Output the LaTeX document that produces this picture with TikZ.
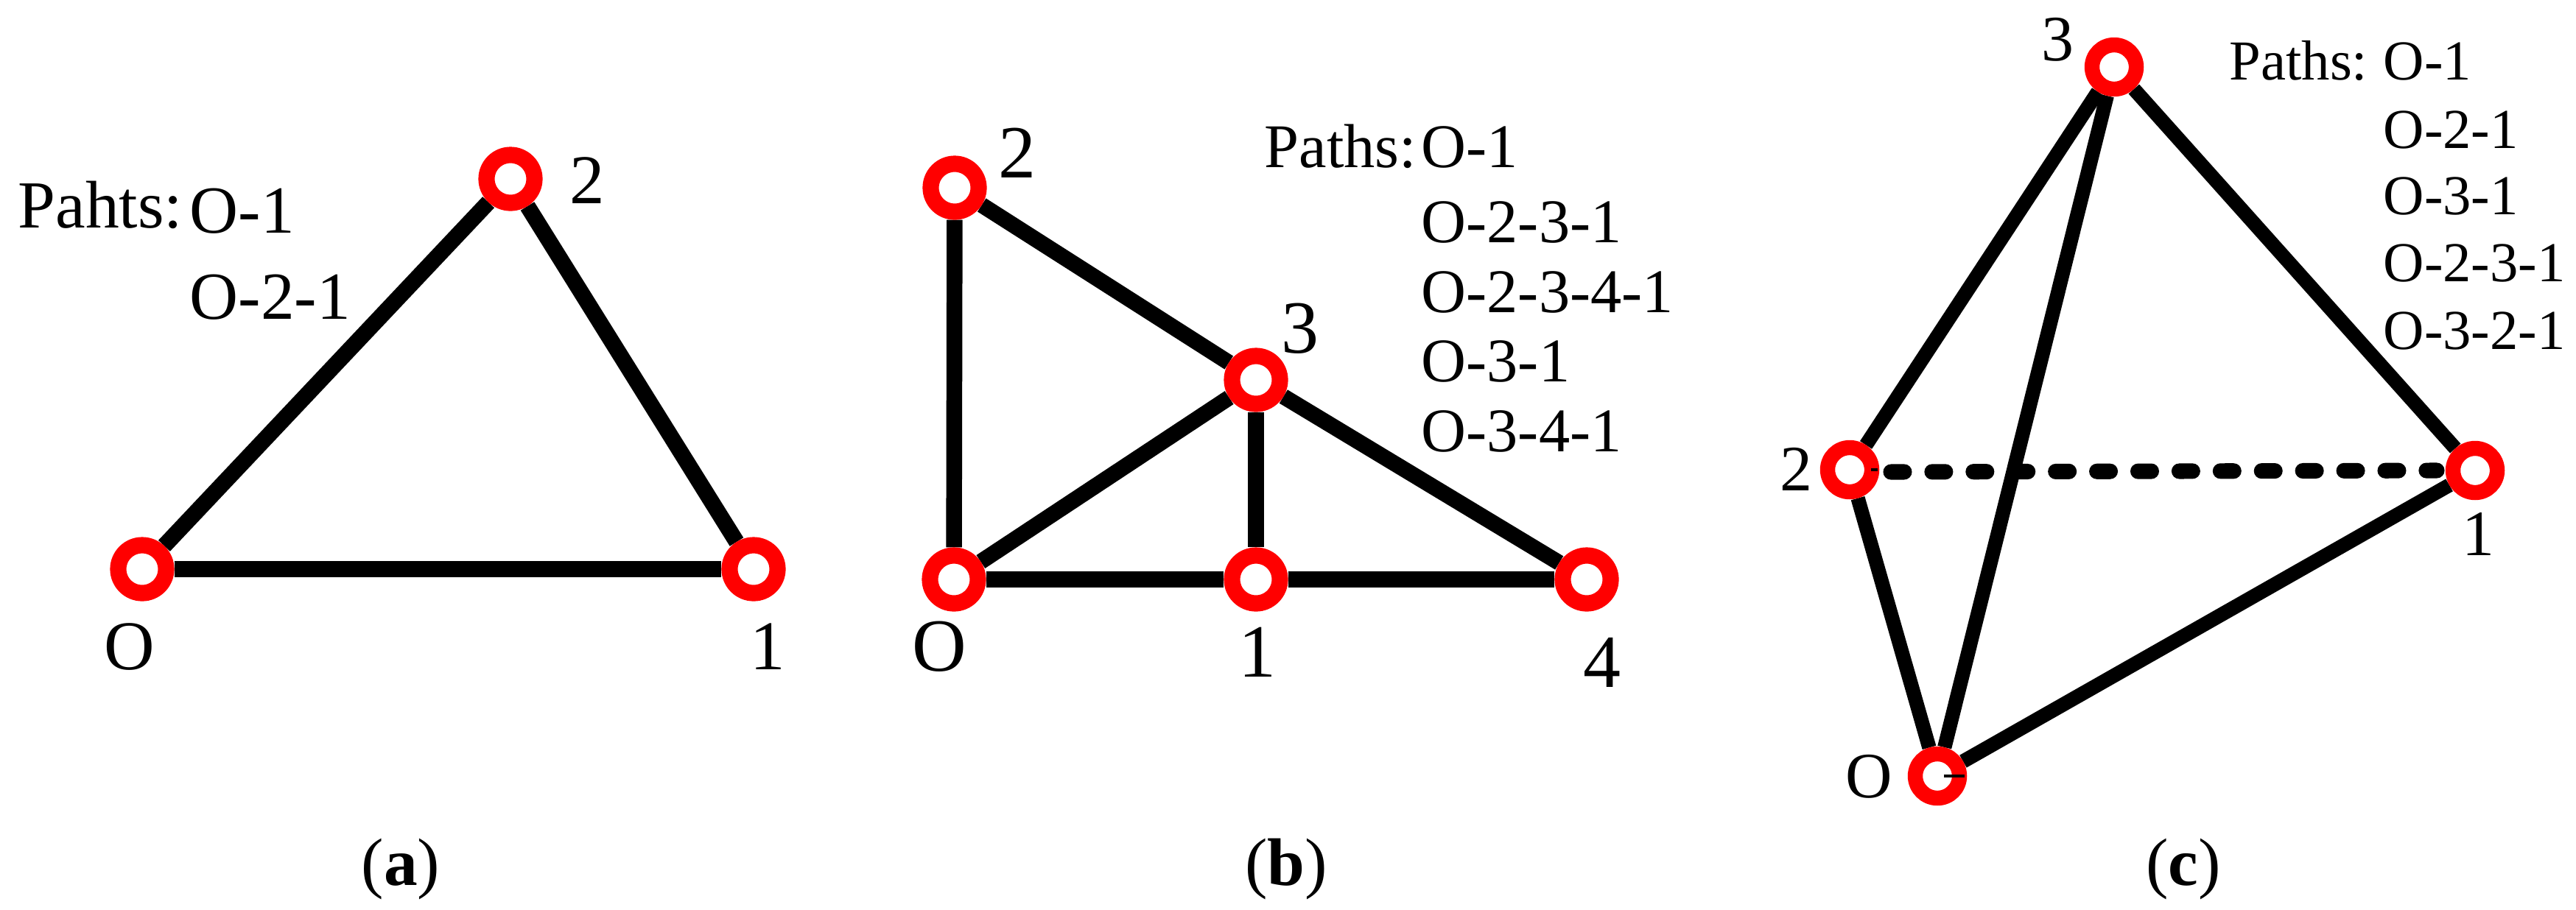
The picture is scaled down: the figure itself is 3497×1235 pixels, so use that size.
\documentclass[tikz,border=0pt]{standalone}
\usepackage{fontspec}
\setmainfont{Liberation Serif}
\usetikzlibrary{calc,backgrounds}
\begin{document}
\begin{tikzpicture}[x=0.01cm,y=-0.01cm,
 vtx/.style={circle,draw=red,fill=white,line width=6.3pt,minimum size=0.65cm,inner sep=0pt},
 vtxc/.style={vtx,line width=5.8pt,minimum size=0.6cm},
 ea/.style={line width=6.2pt},
 eb/.style={line width=6.1pt},
 ec/.style={line width=5.5pt},
 dsh/.style={line width=6pt,line cap=round,dash pattern=on 5.1pt off 10.8pt},
 tick/.style={line width=1pt},
 lbla/.style={inner sep=0pt,font=\fontsize{27}{31}\selectfont},
 lblb/.style={inner sep=0pt,font=\fontsize{29}{33}\selectfont},
 lblc/.style={inner sep=0pt,font=\fontsize{25}{29}\selectfont},
 pa/.style={inner sep=0pt,anchor=base west,font=\fontsize{26}{30}\selectfont},
 pb/.style={inner sep=0pt,anchor=base west,font=\fontsize{24}{28}\selectfont},
 pc/.style={inner sep=0pt,anchor=base west,font=\fontsize{21.8}{25}\selectfont},
 capt/.style={inner sep=0pt,font=\fontsize{26}{30}\selectfont}]

\useasboundingbox (0,0) rectangle (3497,1235);

% ---------- panel (a)
\node[vtx] (aO) at (193,773) {};
\node[vtx] (a1) at (1023,773) {};
\node[vtx] (a2) at (693,243) {};
\begin{pgfonlayer}{background}
\draw[ea] (aO) -- (a1);
\draw[ea] (aO) -- (a2);
\draw[ea] (a2) -- (a1);
\end{pgfonlayer}
\node[lbla] (laO) at (176,879) {O};
\node[lbla] (la1) at (1042,878) {1};
\node[lbla] (la2) at (797,245) {2};
\node[pa] (paH) at (24,309) {Pahts:};
\node[pa] (pa1) at (257,316) {O-1};
\node[pa] (pa2) at (257,433) {O-2-1};
\node[capt] (capa) at (544,1180) {(\textbf{a})};

% ---------- panel (b)
\node[vtx] (bO) at (1295,787) {};
\node[vtx] (b1) at (1705,787) {};
\node[vtx] (b4) at (2154,787) {};
\node[vtx] (b2) at (1296,255) {};
\node[vtx] (b3) at (1705,516) {};
\begin{pgfonlayer}{background}
\draw[eb] (bO) -- (b2);
\draw[eb] (b2) -- (b3);
\draw[eb] (b3) -- (b4);
\draw[eb] (bO) -- (b3);
\draw[eb] (b3) -- (b1);
\draw[eb] (bO) -- (b1);
\draw[eb] (b1) -- (b4);
\end{pgfonlayer}
\node[lblb] (lb2) at (1381,208) {2};
\node[lblb] (lb3) at (1765,446) {3};
\node[lblb] (lbO) at (1275,878) {O};
\node[lblb] (lb1) at (1707,886) {1};
\node[lblb] (lb4) at (2175,900) {4};
\node[pb] (pbH) at (1716,227) {Paths:};
\node[pb] (pb1) at (1929,227) {O-1};
\node[pb] (pb2) at (1929,329) {O-2-3-1};
\node[pb] (pb3) at (1929,424) {O-2-3-4-1};
\node[pb] (pb4) at (1929,518) {O-3-1};
\node[pb] (pb5) at (1929,613) {O-3-4-1};
\node[capt] (capb) at (1746,1180) {(\textbf{b})};

% ---------- panel (c)
\node[vtxc] (c3) at (2870,91) {};
\node[vtxc] (c2) at (2511,638) {};
\node[vtxc] (c1) at (3360,639) {};
\node[vtxc] (cO) at (2630,1054) {};
\begin{pgfonlayer}{background}
\draw[ec] (c2) -- (c3);
\draw[ec] (c3) -- (c1);
\draw[ec] (cO) -- (c3);
\draw[ec] (c2) -- (cO);
\draw[ec] (cO) -- (c1);
\draw[dsh] ($(c2.center)+(56,3)$) -- ($(c1.center)+(-52,0)$);
\end{pgfonlayer}
\draw[tick] ($(cO.center)+(9,0)$) -- ($(cO.center)+(37,0)$);
\draw[tick] ($(c2.center)+(29,0)$) -- ($(c2.center)+(38,0)$);
\node[lblc] (lc3) at (2793,54) {3};
\node[lblc] (lc2) at (2438,637) {2};
\node[lblc] (lc1) at (3364,725) {1};
\node[lblc] (lcO) at (2537,1055) {O};
\node[pc] (pcH) at (3026,108) {Paths:};
\node[pc] (pc1) at (3235,108) {O-1};
\node[pc] (pc2) at (3235,201) {O-2-1};
\node[pc] (pc3) at (3235,291) {O-3-1};
\node[pc] (pc4) at (3235,382) {O-2-3-1};
\node[pc] (pc5) at (3235,474) {O-3-2-1};
\node[capt] (capc) at (2964,1180) {(\textbf{c})};
\end{tikzpicture}
\end{document}
